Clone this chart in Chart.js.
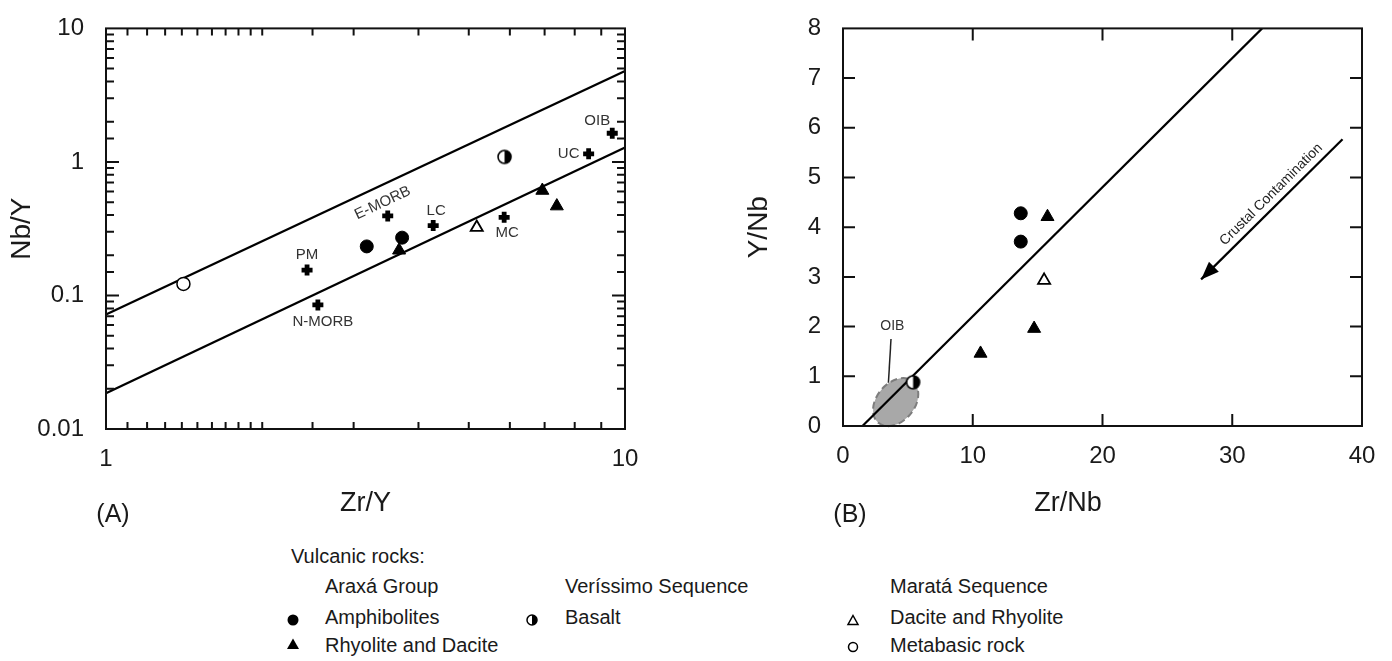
<!DOCTYPE html>
<html>
<head>
<meta charset="utf-8">
<script src="https://cdn.jsdelivr.net/npm/chart.js@4.4.0/dist/chart.umd.min.js"></script>
<style>
  body { margin: 0; background: #fff; width: 1392px; height: 661px; overflow: hidden; position: relative;
         font-family: "Liberation Sans", Arial, sans-serif; color: #1a1a1a; }
  canvas { position: absolute; top: 0; }
  #chartA { left: 0; }
  #chartB { left: 690px; }
  .lg { position: absolute; font-size: 20px; line-height: 22px; white-space: nowrap; }
  .mk { position: absolute; width: 16px; height: 16px; }
</style>
</head>
<body>
<canvas id="chartA" width="680" height="540"></canvas>
<canvas id="chartB" width="702" height="540"></canvas>

<div class="lg" style="left:291px;top:545px">Vulcanic rocks:</div>
<div class="lg" style="left:325px;top:575px">Araxá Group</div>
<div class="lg" style="left:325px;top:606px">Amphibolites</div>
<div class="lg" style="left:325px;top:634px">Rhyolite and Dacite</div>
<div class="lg" style="left:565px;top:575px">Veríssimo Sequence</div>
<div class="lg" style="left:565px;top:606px">Basalt</div>
<div class="lg" style="left:890px;top:575px">Maratá Sequence</div>
<div class="lg" style="left:890px;top:606px">Dacite and Rhyolite</div>
<div class="lg" style="left:890px;top:634px">Metabasic rock</div>

<svg class="mk" style="left:285px;top:612px" viewBox="0 0 16 16"><circle cx="8" cy="8" r="5.5" fill="#000"/></svg>
<svg class="mk" style="left:285px;top:636px" viewBox="0 0 16 16"><polygon points="8,2.5 14,13 2,13" fill="#000"/></svg>
<svg class="mk" style="left:524px;top:612px" viewBox="0 0 16 16"><circle cx="8" cy="8" r="5" fill="#fff" stroke="#000" stroke-width="1.5"/><path d="M8 3 A5 5 0 0 1 8 13 Z" fill="#000"/></svg>
<svg class="mk" style="left:845px;top:612px" viewBox="0 0 16 16"><polygon points="8,3.5 13,12.5 3,12.5" fill="#fff" stroke="#000" stroke-width="1.5"/></svg>
<svg class="mk" style="left:845px;top:639px" viewBox="0 0 16 16"><circle cx="8" cy="8" r="4.5" fill="#fff" stroke="#000" stroke-width="1.5"/></svg>

<script>
// ---------- panel A: Nb/Y vs Zr/Y ----------
var amphZrY = [3.18, 3.72];
var amphNbY = [0.233, 0.271];
var rhyoZrY = [3.67, 6.93, 7.39];
var rhyoNbY = [0.218, 0.611, 0.467];
var basaltZrY = [5.86];
var basaltNbY = [1.09];
var daciteZrY = [5.18];
var daciteNbY = [0.323];
var metabZrY = [1.41];
var metabNbY = [0.122];

// reference compositions
var refNames = ['PM', 'N-MORB', 'E-MORB', 'LC', 'MC', 'UC', 'OIB'];
var refZrY = [2.44, 2.56, 3.49, 4.27, 5.85, 8.51, 9.45];
var refNbY = [0.155, 0.085, 0.394, 0.334, 0.385, 1.15, 1.64];

// MORB-OIB array limits
var upperZrY = [1, 10];
var upperNbY = [0.072, 4.8];
var lowerZrY = [1, 10];
var lowerNbY = [0.0185, 1.28];

var xTickValsA = [1, 10];
var xTickLabelsA = ['1', '10'];
var yTickValsA = [0.01, 0.1, 1, 10];
var yTickLabelsA = ['0.01', '0.1', '1', '10'];

// ---------- panel B: Y/Nb vs Zr/Nb ----------
var amphZrNb = [13.7, 13.7];
var amphYNb = [4.28, 3.71];
var rhyoZrNb = [15.76, 14.73, 10.6];
var rhyoYNb = [4.21, 1.96, 1.46];
var basaltZrNb = [5.4];
var basaltYNb = [0.88];
var daciteZrNb = [15.5];
var daciteYNb = [2.93];

var trendZrNb = [1.5, 32.3];
var trendYNb = [0, 8];
var oibCentre = [4.06, 0.48];
var oibLeaderZrNb = [3.7, 3.5];
var oibLeaderYNb = [1.75, 0.87];
var oibLabelAt = [3.8, 2.0];
var crustZrNb = [38.5, 27.6];
var crustYNb = [5.77, 2.95];

// label offsets (px) for the reference compositions
var refLabelShift = [[0, -15], [5, 17], [-5, -13], [3, -15], [3, 16], [-20, 0], [-15, -12]];
var refLabelAngle = [0, 0, -25, 0, 0, 0, 0];

Chart.defaults.font.family = '"Liberation Sans", Arial, sans-serif';
Chart.defaults.color = '#1a1a1a';

function pts(xs, ys) {
  return xs.map(function (x, i) { return { x: x, y: ys[i] }; });
}

function labelFor(vals, labels) {
  return function (v) {
    for (var i = 0; i < vals.length; i++) {
      if (Math.abs(v - vals[i]) < vals[i] * 1e-6) return labels[i];
    }
    return '';
  };
}

function halfDisc(r) {
  var c = document.createElement('canvas');
  var s = 2 * r + 4;
  c.width = c.height = s;
  var g = c.getContext('2d'), m = s / 2;
  g.beginPath(); g.arc(m, m, r, 0, 2 * Math.PI); g.fillStyle = '#fff'; g.fill();
  g.beginPath(); g.arc(m, m, r, -Math.PI / 2, Math.PI / 2); g.closePath(); g.fillStyle = '#000'; g.fill();
  g.beginPath(); g.arc(m, m, r, 0, 2 * Math.PI); g.lineWidth = 1.6; g.strokeStyle = '#000'; g.stroke();
  return c;
}

// box + inward tick marks on all four sides
function makeFrame(lenFn) {
  return {
    id: 'frame',
    afterDraw: function (chart) {
      var ctx = chart.ctx, a = chart.chartArea;
      ctx.save();
      ctx.strokeStyle = '#111';
      ctx.lineWidth = 2;
      ctx.strokeRect(a.left, a.top, a.right - a.left, a.bottom - a.top);
      ['x', 'y'].forEach(function (id) {
        var s = chart.scales[id];
        s.ticks.forEach(function (t) {
          var len = lenFn(t.value, s);
          if (!len) return;
          var p = s.getPixelForValue(t.value);
          ctx.beginPath();
          if (id === 'x') {
            ctx.moveTo(p, a.bottom); ctx.lineTo(p, a.bottom - len);
            ctx.moveTo(p, a.top); ctx.lineTo(p, a.top + len);
          } else {
            ctx.moveTo(a.left, p); ctx.lineTo(a.left + len, p);
            ctx.moveTo(a.right, p); ctx.lineTo(a.right - len, p);
          }
          ctx.stroke();
        });
      });
      ctx.restore();
    }
  };
}

var basaltImg = halfDisc(6.5);

var refLabels = {
  id: 'refLabels',
  afterDatasetsDraw: function (chart) {
    var ctx = chart.ctx, sx = chart.scales.x, sy = chart.scales.y;
    ctx.save();
    ctx.font = '15px "Liberation Sans", Arial, sans-serif';
    ctx.fillStyle = '#333';
    ctx.textAlign = 'center';
    ctx.textBaseline = 'middle';
    refNames.forEach(function (n, i) {
      var px = sx.getPixelForValue(refZrY[i]) + refLabelShift[i][0];
      var py = sy.getPixelForValue(refNbY[i]) + refLabelShift[i][1];
      ctx.save();
      ctx.translate(px, py);
      ctx.rotate(refLabelAngle[i] * Math.PI / 180);
      ctx.fillText(n, 0, 0);
      ctx.restore();
    });
    ctx.font = '25px "Liberation Sans", Arial, sans-serif';
    ctx.fillStyle = '#1a1a1a';
    ctx.fillText('(A)', 113, 515);
    ctx.restore();
  }
};

new Chart(document.getElementById('chartA'), {
  type: 'scatter',
  data: {
    datasets: [
      { label: 'Amphibolites', data: pts(amphZrY, amphNbY), pointStyle: 'circle', pointRadius: 6.5,
        backgroundColor: '#000', borderColor: '#000', borderWidth: 1 },
      { label: 'Rhyolite and Dacite', data: pts(rhyoZrY, rhyoNbY), pointStyle: 'triangle', pointRadius: 7.5,
        backgroundColor: '#000', borderColor: '#000', borderWidth: 1 },
      { label: 'Basalt', data: pts(basaltZrY, basaltNbY), pointStyle: basaltImg },
      { label: 'Dacite and Rhyolite', data: pts(daciteZrY, daciteNbY), pointStyle: 'triangle', pointRadius: 7,
        backgroundColor: '#fff', borderColor: '#000', borderWidth: 1.8 },
      { label: 'Metabasic rock', data: pts(metabZrY, metabNbY), pointStyle: 'circle', pointRadius: 6.5,
        backgroundColor: '#fff', borderColor: '#000', borderWidth: 1.5 },
      { label: 'Reference', data: pts(refZrY, refNbY), pointStyle: 'cross', pointRadius: 5.5,
        borderColor: '#000', borderWidth: 4.8 },
      { label: 'upper', data: pts(upperZrY, upperNbY), showLine: true, pointRadius: 0,
        borderColor: '#000', borderWidth: 2.2 },
      { label: 'lower', data: pts(lowerZrY, lowerNbY), showLine: true, pointRadius: 0,
        borderColor: '#000', borderWidth: 2.2 }
    ]
  },
  options: {
    responsive: false,
    animation: false,
    events: [],
    layout: { padding: { top: 23, right: 55, left: 0, bottom: 0 } },
    plugins: { legend: { display: false }, tooltip: { enabled: false } },
    scales: {
      x: {
        type: 'logarithmic', min: 1, max: 10,
        grid: { display: false }, border: { display: false },
        ticks: { autoSkip: false, maxRotation: 0, padding: 8, font: { size: 24 },
                 callback: labelFor(xTickValsA, xTickLabelsA) },
        title: { display: true, text: 'Zr/Y', font: { size: 27 }, padding: { top: 0, bottom: 20 } },
        afterFit: function (s) { s.height = 111; }
      },
      y: {
        type: 'logarithmic', min: 0.01, max: 10,
        grid: { display: false }, border: { display: false },
        ticks: { autoSkip: false, padding: 14, font: { size: 24 },
                 callback: labelFor(yTickValsA, yTickLabelsA) },
        title: { display: true, text: 'Nb/Y', font: { size: 28 }, padding: { top: 5, bottom: 0 } },
        afterFit: function (s) { s.width = 106; }
      }
    }
  },
  plugins: [refLabels, makeFrame(function (v, s) {
    var e = Math.log10(v);
    var major = Math.abs(e - Math.round(e)) < 1e-6;
    if (s.axis === 'x') return major ? 0 : 7;
    if (v <= s.min * 1.000001 || v >= s.max * 0.999999) return 0;
    return major ? 13 : 8;
  })]
});

// ---------- panel B extras ----------
var panelB = {
  id: 'panelB',
  beforeDatasetsDraw: function (chart) {
    var ctx = chart.ctx, sx = chart.scales.x, sy = chart.scales.y;
    var cx = sx.getPixelForValue(oibCentre[0]), cy = sy.getPixelForValue(oibCentre[1]);
    ctx.save();
    ctx.beginPath();
    ctx.ellipse(cx, cy, 27, 19, -50 * Math.PI / 180, 0, 2 * Math.PI);
    ctx.fillStyle = '#a8a8a8';
    ctx.fill();
    ctx.setLineDash([7, 4]);
    ctx.lineWidth = 2;
    ctx.strokeStyle = '#7d7d7d';
    ctx.stroke();
    ctx.restore();
  },
  afterDatasetsDraw: function (chart) {
    var ctx = chart.ctx, sx = chart.scales.x, sy = chart.scales.y;
    ctx.save();
    // arrow head
    var x0 = sx.getPixelForValue(crustZrNb[0]), y0 = sy.getPixelForValue(crustYNb[0]);
    var x1 = sx.getPixelForValue(crustZrNb[1]), y1 = sy.getPixelForValue(crustYNb[1]);
    var ang = Math.atan2(y1 - y0, x1 - x0);
    ctx.translate(x1, y1);
    ctx.rotate(ang);
    ctx.beginPath();
    ctx.moveTo(0, 0); ctx.lineTo(-18, -7); ctx.lineTo(-18, 7); ctx.closePath();
    ctx.fillStyle = '#000';
    ctx.fill();
    ctx.restore();

    // arrow caption
    ctx.save();
    ctx.translate((x0 + x1) / 2, (y0 + y1) / 2);
    ctx.rotate(Math.atan2(y0 - y1, x0 - x1));
    ctx.font = '14px "Liberation Sans", Arial, sans-serif';
    ctx.fillStyle = '#222';
    ctx.textAlign = 'center';
    ctx.textBaseline = 'middle';
    ctx.fillText('Crustal Contamination', 10, -11);
    ctx.restore();

    ctx.save();
    ctx.font = '14px "Liberation Sans", Arial, sans-serif';
    ctx.fillStyle = '#333';
    ctx.textAlign = 'center';
    ctx.textBaseline = 'middle';
    ctx.fillText('OIB', sx.getPixelForValue(oibLabelAt[0]), sy.getPixelForValue(oibLabelAt[1]));
    ctx.fillStyle = '#1a1a1a';
    ctx.font = '27px "Liberation Sans", Arial, sans-serif';
    ctx.fillText('Zr/Nb', 378, 504);
    ctx.font = '25px "Liberation Sans", Arial, sans-serif';
    ctx.fillText('(B)', 160, 515);
    ctx.restore();
  }
};

new Chart(document.getElementById('chartB'), {
  type: 'scatter',
  data: {
    datasets: [
      { label: 'Amphibolites', data: pts(amphZrNb, amphYNb), pointStyle: 'circle', pointRadius: 6.5,
        backgroundColor: '#000', borderColor: '#000', borderWidth: 1 },
      { label: 'Rhyolite and Dacite', data: pts(rhyoZrNb, rhyoYNb), pointStyle: 'triangle', pointRadius: 7.5,
        backgroundColor: '#000', borderColor: '#000', borderWidth: 1 },
      { label: 'Basalt', data: pts(basaltZrNb, basaltYNb), pointStyle: basaltImg },
      { label: 'Dacite and Rhyolite', data: pts(daciteZrNb, daciteYNb), pointStyle: 'triangle', pointRadius: 7,
        backgroundColor: '#fff', borderColor: '#000', borderWidth: 1.8 },
      { label: 'trend', data: pts(trendZrNb, trendYNb), showLine: true, pointRadius: 0,
        borderColor: '#000', borderWidth: 2.2 },
      { label: 'OIB leader', data: pts(oibLeaderZrNb, oibLeaderYNb), showLine: true, pointRadius: 0,
        borderColor: '#222', borderWidth: 1.5 },
      { label: 'Crustal Contamination', data: pts(crustZrNb, crustYNb), showLine: true, pointRadius: 0,
        borderColor: '#000', borderWidth: 2.2 }
    ]
  },
  options: {
    responsive: false,
    animation: false,
    events: [],
    layout: { padding: { top: 21, right: 30, left: 0, bottom: 0 } },
    plugins: { legend: { display: false }, tooltip: { enabled: false } },
    scales: {
      x: {
        type: 'linear', min: 0, max: 40,
        grid: { display: false }, border: { display: false },
        ticks: { stepSize: 10, maxRotation: 0, padding: 8, font: { size: 24 } },
        afterFit: function (s) { s.height = 114; }
      },
      y: {
        type: 'linear', min: 0, max: 8,
        grid: { display: false }, border: { display: false },
        ticks: { stepSize: 1, padding: 14, font: { size: 24 } },
        title: { display: true, text: 'Y/Nb', font: { size: 28 }, padding: { top: 52, bottom: 0 } },
        afterFit: function (s) { s.width = 153; }
      }
    }
  },
  plugins: [panelB, makeFrame(function (v, s) {
    if (v <= s.min || v >= s.max) return 0;
    return 12;
  })]
});
</script>
</body>
</html>
